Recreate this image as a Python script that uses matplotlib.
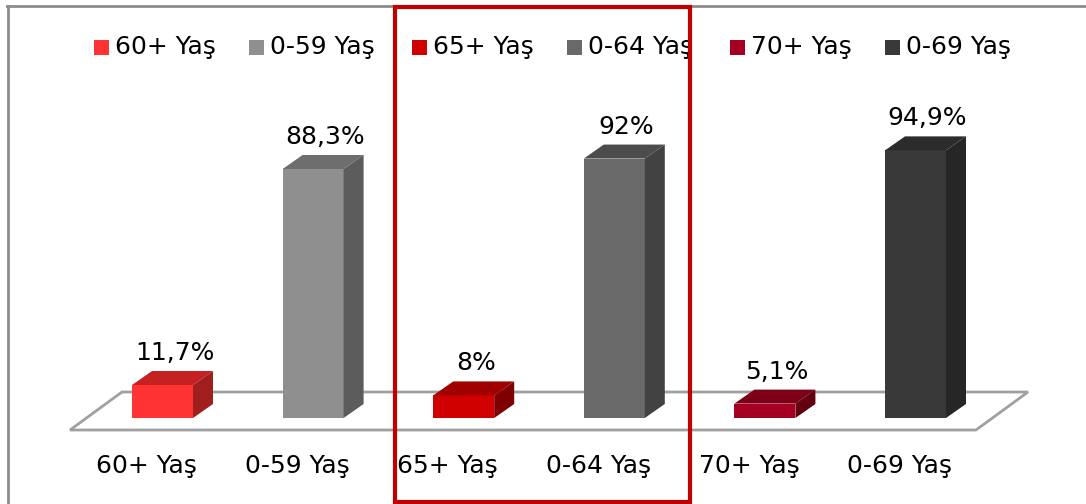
import matplotlib
matplotlib.use("Agg")
import matplotlib.pyplot as plt
from matplotlib.patches import Polygon, Rectangle
from matplotlib.lines import Line2D

categories = ["60+ Yaş", "0-59 Yaş", "65+ Yaş", "0-64 Yaş", "70+ Yaş", "0-69 Yaş"]
values = [11.7, 88.3, 8.0, 92.0, 5.1, 94.9]
value_labels = ["11,7%", "88,3%", "8%", "92%", "5,1%", "94,9%"]

front_colors = ["#FF3333", "#8F8F8F", "#D00000", "#696969", "#A50021", "#393939"]
top_colors = ["#C42222", "#6E6E6E", "#A00000", "#4C4C4C", "#7E0018", "#2C2C2C"]
side_colors = ["#A01E1E", "#5C5C5C", "#7E0000", "#424242", "#62000F", "#262626"]

W, H = 1086, 504
fig = plt.figure(figsize=(W / 100, H / 100), dpi=100)
plt.rcParams['font.family'] = ['DejaVu Sans']
FS = 18

# axes: x index -> bar front centre, y percent -> pixels
px_per_cat = 150.6
x0_px = 162.5
px_per_pct = 2.82
y0_px = 418  # from top
left = (x0_px - 0.5 * px_per_cat) / W
width = 6 * px_per_cat / W
bottom = (H - y0_px) / H
height = 100 * px_per_pct / H
ax = fig.add_axes([left, bottom, width, height])
ax.set_xlim(-0.5, 5.5)
ax.set_ylim(0, 100)
ax.axis("off")

def dx(p):
    return p / px_per_cat

def dy(p):
    return p / px_per_pct

# floor
fl_front = dy(-12)
fl_back = dy(26)
floor = Polygon([(dx(70 - x0_px), fl_front), (dx(976 - x0_px), fl_front),
                 (dx(1028 - x0_px), fl_back), (dx(122 - x0_px), fl_back)],
                closed=True, facecolor="white", edgecolor="#A0A0A0", lw=2,
                clip_on=False, zorder=1)
ax.add_patch(floor)

bw = dx(61)
ddx, ddy = dx(20), dy(14)
for i, v in enumerate(values):
    xl, xr = i - bw / 2, i + bw / 2
    front = Polygon([(xl, 0), (xr, 0), (xr, v), (xl, v)], closed=True,
                    facecolor=front_colors[i], edgecolor="none", clip_on=False, zorder=3)
    top = Polygon([(xl, v), (xr, v), (xr + ddx, v + ddy), (xl + ddx, v + ddy)], closed=True,
                  facecolor=top_colors[i], edgecolor="none", clip_on=False, zorder=3)
    side = Polygon([(xr, 0), (xr + ddx, ddy), (xr + ddx, v + ddy), (xr, v)], closed=True,
                   facecolor=side_colors[i], edgecolor="none", clip_on=False, zorder=3)
    for p in (front, top, side):
        ax.add_patch(p)
    ax.text(i + dx(12), v + ddy + dy(18), value_labels[i], ha="center", va="center",
            fontsize=FS, color="black", clip_on=False, zorder=4)
    ax.text(i - dx(16), dy(-48), categories[i], ha="center", va="center",
            fontsize=FS, color="black", clip_on=False, zorder=4)

# legend (manual row)
legend_x = [94, 249, 412, 567, 730, 885]
sq = 15
yc = 47
for i, c in enumerate(categories):
    x = legend_x[i]
    fig.patches.append(Rectangle((x / W, 1 - (yc + sq / 2) / H), sq / W, sq / H,
                                 transform=fig.transFigure, facecolor=front_colors[i],
                                 edgecolor="none"))
    fig.text((x + sq + 6) / W, 1 - yc / H, c, ha="left", va="center",
             fontsize=FS, color="black")

# outer gray frame (top and left)
fig.lines.append(Line2D([7 / W, 1.0], [1 - 5.5 / H, 1 - 5.5 / H], transform=fig.transFigure,
                        color="#8C8C8C", lw=2))
fig.lines.append(Line2D([7.5 / W, 7.5 / W], [0, 1 - 5.5 / H], transform=fig.transFigure,
                        color="#8C8C8C", lw=2))

# red highlight rectangle
fig.patches.append(Rectangle((394.5 / W, 1 - 501.5 / H), (690 - 394.5) / W, (501.5 - 6.5) / H,
                             transform=fig.transFigure, facecolor="none",
                             edgecolor="#C00000", lw=3, zorder=10))

fig.savefig("out.png", dpi=100)
